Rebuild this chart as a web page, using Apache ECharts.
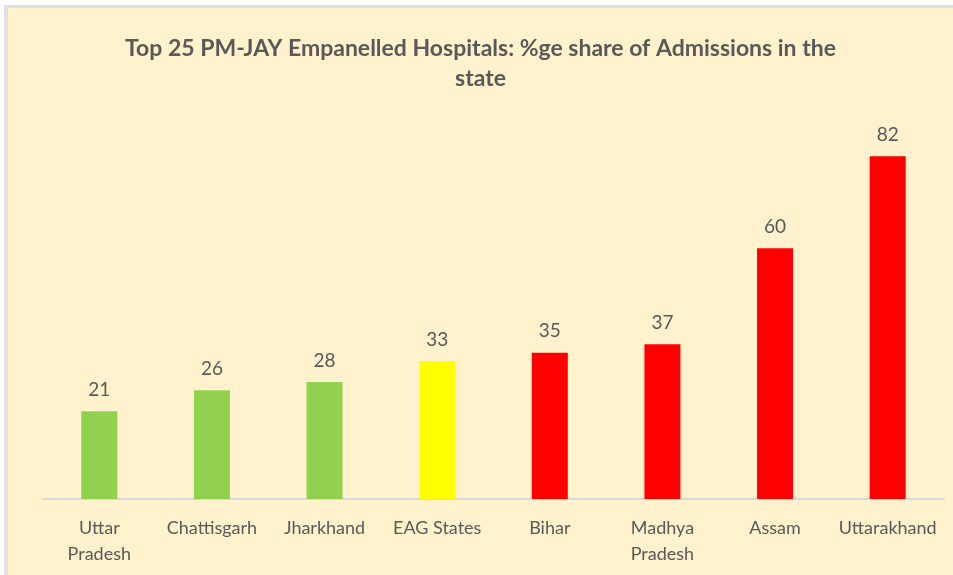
<!DOCTYPE html>
<html>
<head>
<meta charset="utf-8">
<script src="https://cdn.jsdelivr.net/npm/echarts@6/dist/echarts.min.js"></script>
<style>
    html, body {margin: 0; padding: 0; background: #ffffff; overflow: hidden; width: 100%; height: 100%;}
    .edge {position: absolute; background: #e0e0e0;}
    #chart {
        position: absolute;
        left: 8px;
        top: 8px;
        right: 0;
        bottom: 0;
    }
</style>
</head>
<body>
<div class="edge" style="left:4px; top:5px; width:4px; bottom:0;"></div>
<div class="edge" style="left:4px; top:5px; right:0; height:3px;"></div>
<div id="chart"></div>
<script>
    // data
    let states = ['Uttar\nPradesh', 'Chattisgarh', 'Jharkhand', 'EAG States', 'Bihar', 'Madhya\nPradesh', 'Assam', 'Uttarakhand'];
    let shares = [21, 26, 28, 33, 35, 37, 60, 82];
    let barColors = ['#92D050', '#92D050', '#92D050', '#FFFF00', '#FF0000', '#FF0000', '#FF0000', '#FF0000'];

    let chart = echarts.init(document.getElementById('chart'));
    let data = [];
    for (let i = 0; i < shares.length; i++) {
        data.push({value: shares[i], itemStyle: {color: barColors[i]}});
    }

    let option = {
        backgroundColor: '#FFF2CC',
        animation: false,
        title: {
            text: 'Top 25 PM-JAY Empanelled Hospitals: %ge share of Admissions in the\nstate',
            left: 'center',
            top: 21,
            textStyle: {
                fontFamily: 'Lato',
                fontWeight: 'bold',
                fontSize: 23,
                color: '#595959',
                lineHeight: 30
            }
        },
        grid: {left: 35, right: 9, top: 73, bottom: 76},
        xAxis: {
            type: 'category',
            data: states,
            axisLine: {lineStyle: {color: '#d9d9d9', width: 2}},
            axisTick: {show: false},
            axisLabel: {
                interval: 0,
                margin: 16,
                fontFamily: 'Lato',
                fontSize: 18,
                color: '#595959',
                lineHeight: 26
            }
        },
        yAxis: {
            type: 'value',
            min: 0,
            max: 100,
            show: false,
            splitLine: {show: false}
        },
        series: [
            {
                type: 'bar',
                data: data,
                barWidth: 36,
                label: {
                    show: true,
                    position: 'top',
                    distance: 12,
                    fontFamily: 'Lato',
                    fontSize: 19,
                    color: '#595959'
                }
            }
        ]
    };
    chart.setOption(option);
</script>
</body>
</html>
